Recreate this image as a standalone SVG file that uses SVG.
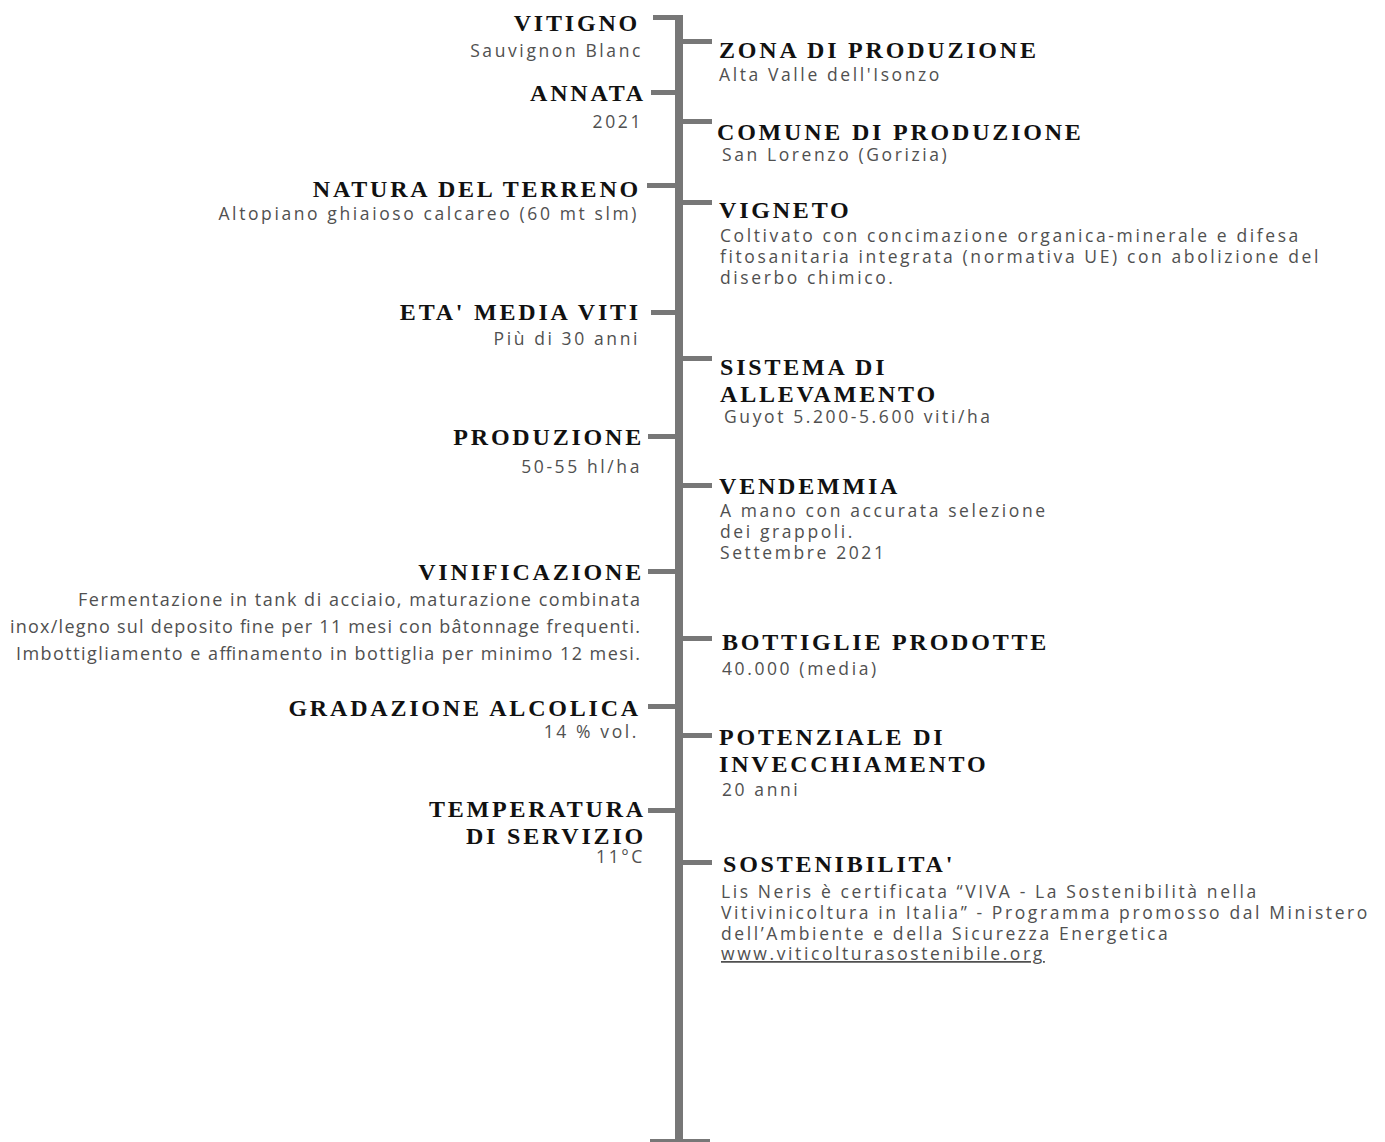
<svg xmlns="http://www.w3.org/2000/svg" width="1385" height="1142" viewBox="0 0 1385 1142">
<style>
.h{font-family:"Liberation Serif",serif;font-weight:bold;font-size:24px;letter-spacing:2.8px;fill:#111}
.b{font-family:"Open Sans","Liberation Sans",sans-serif;font-size:17.5px;letter-spacing:2.6px;fill:#505050}
.v{font-family:"Open Sans","Liberation Sans",sans-serif;font-size:18px;fill:#505050}
.l{text-anchor:end}
.bar{fill:#777}
</style>
<rect width="1385" height="1142" fill="#fff"/>
<g id="connectors">
<rect class="bar" x="675" y="15" width="8" height="1124"/>
<rect class="bar" x="650" y="1139" width="60" height="3"/>
<rect class="bar" x="653" y="15" width="30" height="5"/>
<rect class="bar" x="683" y="39" width="29" height="5"/>
<rect class="bar" x="651" y="90" width="25" height="5"/>
<rect class="bar" x="683" y="119" width="29" height="5"/>
<rect class="bar" x="647" y="183" width="29" height="5"/>
<rect class="bar" x="683" y="200" width="29" height="5"/>
<rect class="bar" x="651" y="310" width="25" height="5"/>
<rect class="bar" x="683" y="356" width="29" height="5"/>
<rect class="bar" x="648" y="434" width="28" height="5"/>
<rect class="bar" x="683" y="483" width="29" height="5"/>
<rect class="bar" x="648" y="569" width="28" height="5"/>
<rect class="bar" x="683" y="636" width="29" height="5"/>
<rect class="bar" x="648" y="704" width="28" height="5"/>
<rect class="bar" x="683" y="733" width="29" height="5"/>
<rect class="bar" x="648" y="808" width="28" height="5"/>
<rect class="bar" x="683" y="860" width="29" height="5"/>
</g>
<g id="vitigno"><text class="h l" x="640" y="31">VITIGNO</text><text class="b l" x="643" y="57">Sauvignon Blanc</text></g>
<g id="annata"><text class="h l" x="646" y="101">ANNATA</text><text class="b l" x="643" y="128">2021</text></g>
<g id="natura-terreno"><text class="h l" x="641" y="197">NATURA DEL TERRENO</text><text class="b l" x="639" y="220">Altopiano ghiaioso calcareo (60 mt slm)</text></g>
<g id="eta-media-viti"><text class="h l" x="641" y="320">ETA' MEDIA VITI</text><text class="b l" x="640" y="345">Più di 30 anni</text></g>
<g id="produzione"><text class="h l" x="644" y="445">PRODUZIONE</text><text class="b l" x="642" y="473">50-55 hl/ha</text></g>
<g id="vinificazione"><text class="h l" x="644" y="580">VINIFICAZIONE</text>
<text class="v l" x="640" y="606" textLength="562" lengthAdjust="spacing">Fermentazione in tank di acciaio, maturazione combinata</text>
<text class="v l" x="640" y="633" textLength="630" lengthAdjust="spacing">inox/legno sul deposito fine per 11 mesi con bâtonnage frequenti.</text>
<text class="v l" x="640" y="660" textLength="624" lengthAdjust="spacing">Imbottigliamento e affinamento in bottiglia per minimo 12 mesi.</text></g>
<g id="gradazione"><text class="h l" x="641" y="716">GRADAZIONE ALCOLICA</text><text class="b l" x="639" y="738">14 % vol.</text></g>
<g id="temperatura"><text class="h l" x="646" y="817">TEMPERATURA</text><text class="h l" x="646" y="844">DI SERVIZIO</text><text class="b l" x="645" y="863">11°C</text></g>
<g id="zona"><text class="h" x="719" y="58">ZONA DI PRODUZIONE</text><text class="b" x="719" y="81">Alta Valle dell'Isonzo</text></g>
<g id="comune"><text class="h" x="717" y="140">COMUNE DI PRODUZIONE</text><text class="b" x="722" y="161">San Lorenzo (Gorizia)</text></g>
<g id="vigneto"><text class="h" x="719" y="218">VIGNETO</text>
<text class="b" x="720" y="242">Coltivato con concimazione organica-minerale e difesa</text>
<text class="b" x="720" y="263">fitosanitaria integrata (normativa UE) con abolizione del</text>
<text class="b" x="720" y="284">diserbo chimico.</text></g>
<g id="sistema"><text class="h" x="720" y="375">SISTEMA DI</text><text class="h" x="720" y="402">ALLEVAMENTO</text><text class="b" x="724" y="423">Guyot 5.200-5.600 viti/ha</text></g>
<g id="vendemmia"><text class="h" x="719" y="494">VENDEMMIA</text>
<text class="b" x="720" y="517">A mano con accurata selezione</text>
<text class="b" x="720" y="538">dei grappoli.</text>
<text class="b" x="720" y="559">Settembre 2021</text></g>
<g id="bottiglie"><text class="h" x="722" y="650">BOTTIGLIE PRODOTTE</text><text class="b" x="722" y="675">40.000 (media)</text></g>
<g id="potenziale"><text class="h" x="719" y="745">POTENZIALE DI</text><text class="h" x="719" y="772">INVECCHIAMENTO</text><text class="b" x="722" y="796">20 anni</text></g>
<g id="sostenibilita"><text class="h" x="723" y="872">SOSTENIBILITA'</text>
<text class="b" x="721" y="898">Lis Neris è certificata “VIVA - La Sostenibilità nella</text>
<text class="b" x="721" y="919">Vitivinicoltura in Italia” - Programma promosso dal Ministero</text>
<text class="b" x="721" y="940">dell’Ambiente e della Sicurezza Energetica</text>
<text class="b" x="721" y="960" text-decoration="underline">www.viticolturasostenibile.org</text></g>
</svg>
